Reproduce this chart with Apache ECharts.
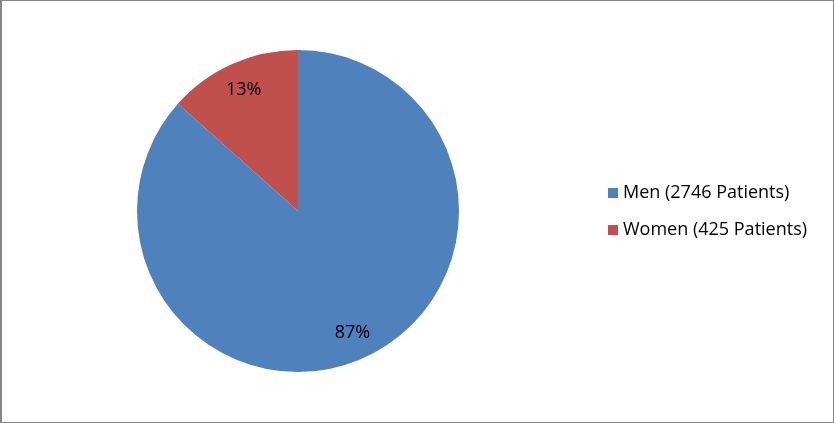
<!DOCTYPE html>
<html>
<head>
<meta charset="utf-8">
<script src="https://cdn.jsdelivr.net/npm/echarts@6/dist/echarts.min.js"></script>
<style>
html,body{margin:0;padding:0;background:#fff;}
#c{width:834px;height:423px;box-sizing:border-box;border:1px solid #868686;border-left-width:2px;}
</style>
</head>
<body>
<div id="c"></div>
<script>
const categories = ['Men (2746 Patients)', 'Women (425 Patients)'];
const values = [2746, 425];
const colors = ['#4F81BD', '#C0504D'];

const data = categories.map((n, i) => ({ name: n, value: values[i], itemStyle: { color: colors[i] } }));
const font = 'Open Sans';
const chart = echarts.init(document.getElementById('c'));
chart.setOption({
  animation: false,
  legend: {
    orient: 'vertical',
    left: 601,
    top: 'middle',
    itemWidth: 10,
    itemHeight: 10,
    itemGap: 17,
    itemStyle: { borderWidth: 0 },
    icon: 'rect',
    textStyle: { fontFamily: font, fontSize: 18, color: '#000', lineHeight: 20 },
    data: categories
  },
  series: [
    {
      type: 'pie',
      center: [296, 210],
      radius: [0, 161],
      startAngle: 90,
      clockwise: true,
      label: { show: false },
      labelLine: { show: false },
      itemStyle: { borderWidth: 0 },
      emphasis: { disabled: true },
      data: data
    },
    {
      type: 'pie',
      center: [296, 210],
      radius: [100, 160],
      startAngle: 90,
      clockwise: true,
      silent: true,
      itemStyle: { color: 'rgba(0,0,0,0)', borderWidth: 0 },
      label: {
        show: true,
        position: 'inside',
        formatter: p => Math.round(p.percent) + '%',
        fontFamily: font, fontSize: 18, color: '#000'
      },
      labelLine: { show: false },
      data: categories.map((n, i) => ({ name: n + ' ', value: values[i] }))
    }
  ]
});
</script>
</body>
</html>
